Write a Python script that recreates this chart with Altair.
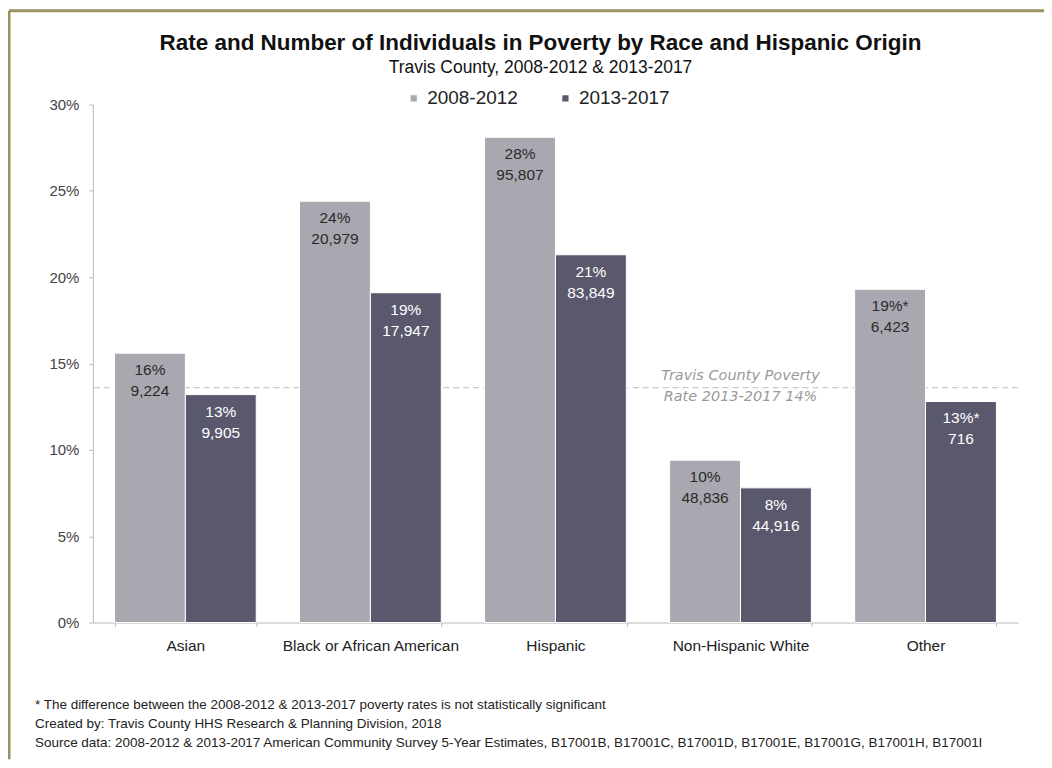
import altair as alt
import pandas as pd

categories = ["Asian", "Black or African American", "Hispanic", "Non-Hispanic White", "Other"]
periods = ["2008-2012", "2013-2017"]
rate_2008 = [15.6, 24.4, 28.1, 9.4, 19.3]
rate_2013 = [13.2, 19.1, 21.3, 7.8, 12.8]
pct_2008 = ["16%", "24%", "28%", "10%", "19%*"]
pct_2013 = ["13%", "19%", "21%", "8%", "13%*"]
num_2008 = ["9,224", "20,979", "95,807", "48,836", "6,423"]
num_2013 = ["9,905", "17,947", "83,849", "44,916", "716"]
county_rate = 13.6
county_label = ["Travis County Poverty", "Rate 2013-2017 14%"]
footnotes = [
    "* The difference between the 2008-2012 & 2013-2017 poverty rates is not statistically significant",
    "Created by: Travis County HHS Research & Planning Division, 2018",
    "Source data: 2008-2012 & 2013-2017 American Community Survey 5-Year Estimates, B17001B, B17001C, B17001D, B17001E, B17001G, B17001H, B17001I",
]

rows = []
for i, c in enumerate(categories):
    rows.append({"cat": c, "period": periods[0], "rate": rate_2008[i],
                 "label": [pct_2008[i], num_2008[i]]})
    rows.append({"cat": c, "period": periods[1], "rate": rate_2013[i],
                 "label": [pct_2013[i], num_2013[i]]})
df = pd.DataFrame(rows)

FONT = "Liberation Sans, Arial"
colors = ["#a9a8b1", "#5a586d"]

x_enc = alt.X("cat:N", sort=categories, title=None,
              scale=alt.Scale(paddingInner=0.234, paddingOuter=0.117),
              axis=alt.Axis(labelAngle=0, labelFontSize=15.5, labelColor="#222",
                            labelFont=FONT, labelPadding=12, tickBand="extent",
                            tickSize=4, tickColor="#bbb", domainColor="#bbb"))
y_enc = alt.Y("rate:Q", title=None,
              scale=alt.Scale(domain=[0, 30], nice=False),
              axis=alt.Axis(values=[0, 5, 10, 15, 20, 25, 30], labelExpr="datum.value + '%'",
                            labelFontSize=15, labelColor="#444", labelFont=FONT,
                            grid=False, tickSize=4, tickColor="#bbb", domainColor="#bbb",
                            labelPadding=10))

base = alt.Chart(df)

bars = base.mark_bar(stroke="white", strokeWidth=1).encode(
    x=x_enc, y=y_enc,
    xOffset=alt.XOffset("period:N", sort=periods),
    color=alt.Color("period:N", sort=periods,
                    scale=alt.Scale(domain=periods, range=colors),
                    legend=alt.Legend(title=None, orient="none", direction="horizontal",
                                      legendX=312, legendY=-16, symbolType="square",
                                      symbolSize=60, labelFontSize=19, labelColor="#222",
                                      labelFont=FONT, columnPadding=38, symbolOpacity=1)),
)

labels = base.mark_text(baseline="top", dy=10, fontSize=15.5, font=FONT, lineHeight=21).encode(
    x=alt.X("cat:N", sort=categories),
    xOffset=alt.XOffset("period:N", sort=periods),
    y="rate:Q",
    text="label",
    color=alt.Color("period:N", sort=periods,
                    scale=alt.Scale(domain=periods, range=["#2a2a2a", "#ffffff"]), legend=None),
)

ref_df = pd.DataFrame({"y": [county_rate], "cat": ["Non-Hispanic White"], "label": [county_label]})
ref_rule = alt.Chart(ref_df).mark_rule(color="#bdbdbd", strokeDash=[6, 4], strokeWidth=1).encode(
    y="y:Q")
ref_text = alt.Chart(ref_df).mark_text(fontStyle="italic", fontSize=14.5, color="#9a9a9a",
                                       font="DejaVu Sans", baseline="middle", lineHeight=21,
                                       dy=-12).encode(
    x=alt.X("cat:N", sort=categories), y="y:Q", text="label")

foot_df = pd.DataFrame({"t": [footnotes]})
foot = alt.Chart(foot_df).mark_text(align="left", baseline="middle", fontSize=13.5,
                                    font=FONT, color="#222", lineHeight=19).encode(
    x=alt.value(-58),
    y=alt.value(602),
    text="t",
)

border_df = pd.DataFrame({"a": [0]})
border_top = alt.Chart(border_df).mark_rule(color="#9a9163", strokeWidth=3).encode(
    x=alt.value(-84), x2=alt.value(953), y=alt.value(-94))
border_left = alt.Chart(border_df).mark_rule(color="#9a9163", strokeWidth=3).encode(
    x=alt.value(-84), y=alt.value(-94), y2=alt.value(656))

chart = alt.layer(ref_rule, bars, labels, ref_text, foot, border_top, border_left).resolve_scale(
    color="independent"
).properties(
    width=927, height=519,
    background="white",
    autosize=alt.AutoSizeParams(type="none"),
    padding={"left": 85, "top": 96, "right": 26, "bottom": 137},
    title=alt.TitleParams(
        "Rate and Number of Individuals in Poverty by Race and Hispanic Origin",
        subtitle="Travis County, 2008-2012 & 2013-2017",
        fontSize=22.5, font=FONT, fontWeight="bold", color="#111",
        subtitleFont=FONT, subtitleFontSize=17.5, subtitleColor="#111",
        anchor="middle", dx=-15, offset=-67, subtitlePadding=4),
).configure_view(stroke=None).configure_axis(grid=False)

chart.save("out.html", embed_options={"renderer": "svg", "actions": False})
